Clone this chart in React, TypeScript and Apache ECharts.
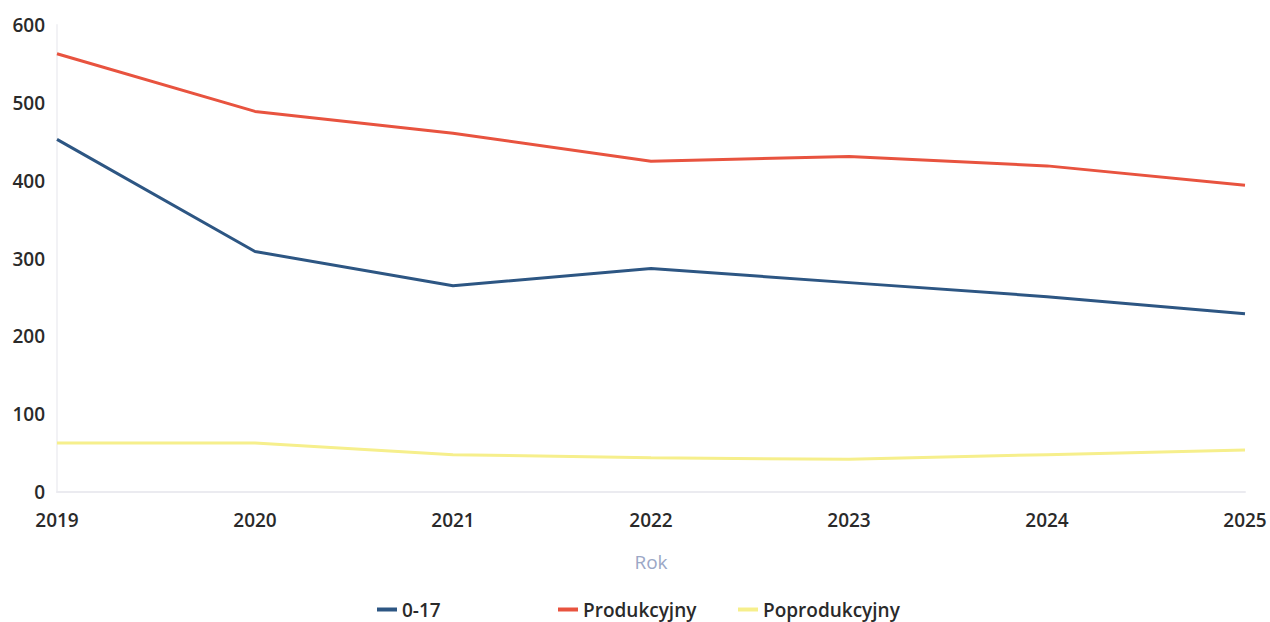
import React, { useEffect, useRef } from "react";
import * as echarts from "echarts";

const years = ["2019", "2020", "2021", "2022", "2023", "2024", "2025"];
const youth = [453, 309, 265, 287, 269, 251, 229];
const working = [563, 489, 461, 425, 431, 419, 394];
const retired = [63, 63, 48, 44, 42, 48, 54];
const seriesNames = ["0-17", "Produkcyjny", "Poprodukcyjny"];
const seriesColors = ["#2d5683", "#e8533f", "#f6ef8c"];
const yTicks = [0, 100, 200, 300, 400, 500, 600];

export default function App() {
  const ref = useRef<HTMLDivElement>(null);
  useEffect(() => {
    if (!ref.current) return;
    const chart = echarts.init(ref.current, null, { renderer: "svg" });
    const values = [youth, working, retired];
    const font = "'Open Sans', sans-serif";
    const legendLefts = [372, 553, 733];
    chart.setOption({
      animation: false,
      backgroundColor: "#ffffff",
      grid: { left: 57, right: 25, top: 25, bottom: 130, containLabel: false },
      xAxis: {
        type: "category",
        data: years,
        boundaryGap: false,
        name: "Rok",
        nameLocation: "middle",
        nameGap: 60,
        nameTextStyle: { color: "#9ba7c6", fontSize: 19, fontFamily: font },
        axisLine: { show: true, lineStyle: { color: "#ebebf0", width: 2 } },
        axisTick: { show: false },
        axisLabel: { color: "#2a2a2a", fontSize: 19, fontWeight: 600, fontFamily: font, margin: 18 },
        splitLine: { show: false },
      },
      yAxis: {
        type: "value",
        min: yTicks[0],
        max: yTicks[yTicks.length - 1],
        interval: 100,
        axisLine: { show: true, lineStyle: { color: "#f2f2f5", width: 2 } },
        axisTick: { show: false },
        axisLabel: { color: "#2a2a2a", fontSize: 19, fontWeight: 600, fontFamily: font, margin: 12 },
        splitLine: { show: false },
      },
      legend: seriesNames.map((n, i) => ({
        data: [n],
        left: legendLefts[i],
        top: 595,
        icon: "rect",
        itemWidth: 20,
        itemHeight: 4,
        itemGap: 6,
        textStyle: { color: "#2a2a2a", fontSize: 19, fontWeight: 600, fontFamily: font },
      })),
      series: seriesNames.map((n, i) => ({
        name: n,
        type: "line",
        data: values[i],
        showSymbol: false,
        symbol: "none",
        lineStyle: { color: seriesColors[i], width: 3 },
        itemStyle: { color: seriesColors[i] },
      })),
    });
    return () => chart.dispose();
  }, []);
  return (
    <div
      ref={ref}
      style={{ position: "fixed", left: 0, top: 0, width: 1270, height: 622 }}
    />
  );
}
